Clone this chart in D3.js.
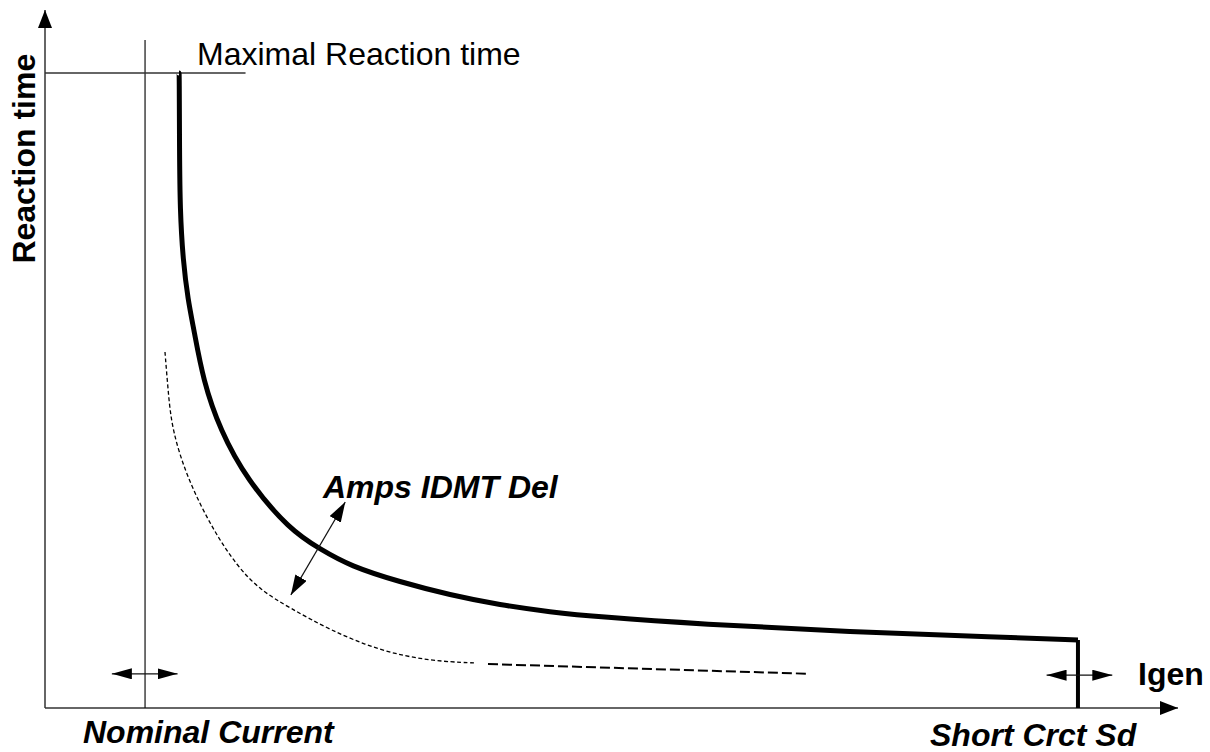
<!DOCTYPE html>
<html lang="en">
<head>
    <meta charset="UTF-8">
    <title>Reaction time vs Igen</title>
    <script src="https://d3js.org/d3.v7.min.js"></script>
    <style>
        body, html { margin: 0; padding: 0; background: #fff; }
        svg { display: block; font-family: "Liberation Sans", Arial, sans-serif; }
        .axis { stroke: #333; stroke-width: 1.5px; fill: none; }
        .thin { stroke: #111; stroke-width: 1.2px; fill: none; }
        .curve { stroke: #000; stroke-width: 5px; fill: none; stroke-linejoin: round; }
        .dash1 { stroke: #000; stroke-width: 1.3px; fill: none; stroke-dasharray: 4 2.5; }
        .dash2 { stroke: #000; stroke-width: 2px; fill: none; stroke-dasharray: 10 4; }
        .lbl { font-size: 32px; fill: #000; }
    </style>
</head>
<body>
<div id="chart"></div>
<script>
    // tripping curve, current (x) and reaction time (y) in relative units 0..100
    const curveX = [11.83, 11.85, 11.87, 11.92, 12.18, 12.62, 13.15, 13.95, 15.45, 17.83, 21.62, 24.27, 26.92, 31.33, 35.75, 40.16, 44.57, 48.98, 57.81, 71.05, 84.29, 91.17, 91.17];
    const curveY = [90.97, 90.97, 79.94, 71.35, 64.18, 58.45, 54.15, 46.99, 39.83, 32.66, 25.50, 22.78, 20.34, 18.05, 16.19, 14.76, 13.75, 13.04, 12.03, 10.89, 10.17, 9.74, 9.74];

    // lower (shifted) curve, drawn dashed
    const lowX = [10.59, 10.59, 10.86, 11.20, 12.62, 14.83, 16.95, 18.97, 21.62, 25.15, 29.57, 33.98, 37.95, 37.95];
    const lowY = [51.00, 51.00, 45.56, 39.83, 32.66, 25.50, 20.34, 16.91, 14.33, 11.17, 8.17, 6.73, 6.45, 6.45];
    const tailX = [39.1, 67.5];
    const tailY = [6.3, 4.9];

    const nominalCurrent = 8.83;
    const shortCircuit = 91.17;
    const maxReaction = 90.97;

    const width = 1210, height = 752;

    const x = d3.scaleLinear().domain([0, 100]).range([45, 1178]);
    const y = d3.scaleLinear().domain([0, 100]).range([708, 10]);

    const svg = d3.select("#chart").append("svg")
        .attr("width", width)
        .attr("height", height);

    const defs = svg.append("defs");
    function marker(id, len, half) {
        defs.append("marker")
            .attr("id", id)
            .attr("markerUnits", "userSpaceOnUse")
            .attr("viewBox", `0 ${-half} ${len} ${half * 2}`)
            .attr("refX", len).attr("refY", 0)
            .attr("markerWidth", len).attr("markerHeight", half * 2)
            .attr("orient", "auto-start-reverse")
            .append("path")
            .attr("d", `M0,${-half}L${len},0L0,${half}Z`)
            .attr("fill", "#000");
    }
    marker("axisHead", 18, 7);
    marker("smallHead", 20, 5.5);
    marker("idmtHead", 20, 6.5);

    const line = d3.line().x(d => x(d[0])).y(d => y(d[1]));
    // B-spline smooths out reading noise; end points are repeated so it still reaches them
    const smooth = d3.line().curve(d3.curveBasis).x(d => x(d[0])).y(d => y(d[1]));

    // axes
    svg.append("path").attr("class", "axis")
        .attr("d", line([[0, 0], [0, 100]]))
        .attr("marker-end", "url(#axisHead)");
    svg.append("path").attr("class", "axis")
        .attr("d", line([[0, 0], [100, 0]]))
        .attr("marker-end", "url(#axisHead)");

    // nominal current line and max reaction line
    svg.append("path").attr("class", "thin")
        .attr("d", line([[nominalCurrent, 0], [nominalCurrent, 95.7]]));
    svg.append("path").attr("class", "axis")
        .attr("d", line([[0, maxReaction], [17.7, maxReaction]]));

    // dashed lower curve
    svg.append("path").attr("class", "dash1")
        .attr("d", smooth(lowX.map((v, i) => [v, lowY[i]])));
    svg.append("path").attr("class", "dash2")
        .attr("d", line(tailX.map((v, i) => [v, tailY[i]])));

    // main curve + short-circuit drop
    svg.append("path").attr("class", "curve")
        .attr("d", smooth(curveX.map((v, i) => [v, curveY[i]])));
    svg.append("path").attr("class", "curve")
        .style("stroke-width", "4px")
        .attr("d", line([[shortCircuit, curveY[curveY.length - 1]], [shortCircuit, 0]]));

    // double arrows
    function dbl(pts, head) {
        svg.append("path").attr("class", "thin")
            .attr("d", line(pts))
            .attr("marker-start", `url(#${head})`)
            .attr("marker-end", `url(#${head})`);
    }
    dbl([[5.9, 4.9], [11.7, 4.9]], "smallHead");
    dbl([[88.4, 4.7], [94.2, 4.7]], "smallHead");
    dbl([[21.7, 16.2], [26.5, 29.5]], "idmtHead");

    // labels
    svg.append("text").attr("class", "lbl")
        .attr("transform", `translate(35,${y(78.7)}) rotate(-90)`)
        .attr("text-anchor", "middle")
        .style("font-weight", "bold")
        .text("Reaction time");
    svg.append("text").attr("class", "lbl")
        .attr("x", 197).attr("y", 65)
        .text("Maximal Reaction time");
    svg.append("text").attr("class", "lbl")
        .attr("x", 323).attr("y", 498)
        .style("font-weight", "bold").style("font-style", "italic")
        .text("Amps IDMT Del");
    svg.append("text").attr("class", "lbl")
        .attr("x", 1138).attr("y", 685)
        .style("font-weight", "bold")
        .text("Igen");
    svg.append("text").attr("class", "lbl")
        .attr("x", 83).attr("y", 743)
        .style("font-weight", "bold").style("font-style", "italic")
        .text("Nominal Current");
    svg.append("text").attr("class", "lbl")
        .attr("x", 930).attr("y", 746)
        .style("font-weight", "bold").style("font-style", "italic")
        .text("Short Crct Sd");
</script>
</body>
</html>
